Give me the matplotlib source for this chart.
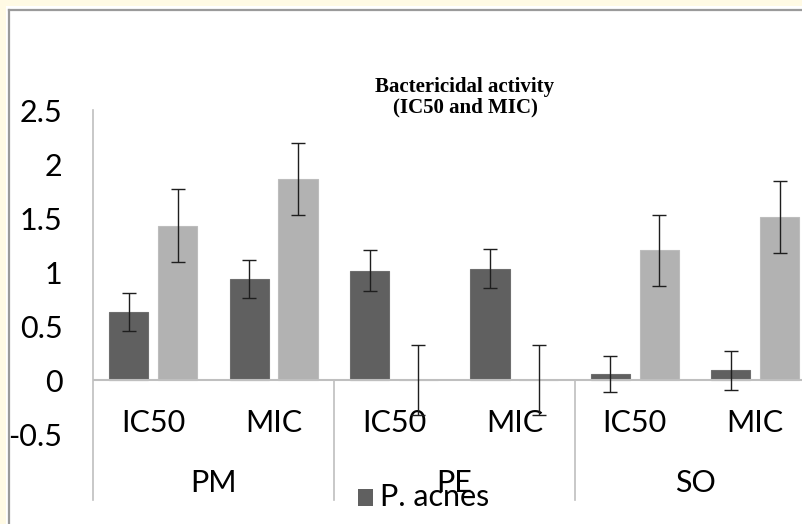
import matplotlib.pyplot as plt
import matplotlib.transforms as mtransforms
from matplotlib.patches import Rectangle
import numpy as np

# values
groups = ["PM", "PE", "SO"]
measures = ["IC50", "MIC"]
acnes = [0.63, 0.935, 1.01, 1.03, 0.055, 0.09]
acnes_err = [0.18, 0.18, 0.19, 0.18, 0.17, 0.18]
second = [1.43, 1.86, 0.0, 0.0, 1.20, 1.51]
second_err = [0.34, 0.33, 0.32, 0.32, 0.33, 0.33]
yticks = [-0.5, 0, 0.5, 1, 1.5, 2, 2.5]

W, H = 803, 524
fig = plt.figure(figsize=(W / 100, H / 100), dpi=100)
fig.patch.set_facecolor("#FFFAE4")

# white chart area with thin grey frame (cropped at right/bottom)
fig.patches.append(Rectangle((6 / W, 0), 1, 1 - 6 / H, transform=fig.transFigure,
                             facecolor="white", edgecolor="none", zorder=-5))
fig.lines.append(plt.Line2D([9.5 / W, 9.5 / W], [0, 1 - 9.5 / H], transform=fig.transFigure,
                            color="#9A9A9A", lw=1.6, zorder=-4))
fig.lines.append(plt.Line2D([9.5 / W, 1], [1 - 9.5 / H, 1 - 9.5 / H], transform=fig.transFigure,
                            color="#9A9A9A", lw=1.6, zorder=-4))

# axes: x 0..6 spans pixel 93..815, y -0.5..2.5 spans pixel 434..110
left, right = 93, 815.4
top, bottom = 110, 434
ax = fig.add_axes([left / W, 1 - bottom / H, (right - left) / W, (bottom - top) / H])
ax.set_facecolor("none")
ax.set_xlim(0, 6)
ax.set_ylim(-0.5, 2.5)

x = np.arange(6) + 0.5
off, bw = 0.203, 0.325
ax.bar(x - off, acnes, width=bw, color="#606060", edgecolor="#6E6E6E", lw=0.8, zorder=2)
ax.bar(x + off, second, width=bw, color="#B2B2B2", edgecolor="#BDBDBD", lw=0.8, zorder=2)
ax.errorbar(x - off, acnes, yerr=acnes_err, fmt="none", ecolor="#1E1E1E", elinewidth=1,
            capsize=5, capthick=1, zorder=4)
ax.errorbar(x + off, second, yerr=second_err, fmt="none", ecolor="#1E1E1E", elinewidth=1,
            capsize=5, capthick=1, zorder=4)

ax.axhline(0, color="#BFBFBF", lw=1.5, zorder=3)
for s in ax.spines.values():
    s.set_visible(False)

font = "Lato"
fs = 22
ax.set_yticks(yticks)
ax.set_yticklabels([f"{v:g}" for v in yticks], fontsize=fs, family=font)
ax.tick_params(axis="y", length=0, pad=22)
ax.set_xticks([])

# y axis line and group separators, drawn below the plot area
blend = mtransforms.blended_transform_factory(ax.transData, ax.transAxes)
ybot = (bottom - 500) / (bottom - top)
yzero = (bottom - 380) / (bottom - top)
ax.plot([0, 0], [ybot, 1], transform=blend, color="#BFBFBF", lw=1.2, clip_on=False)
for xs in [2, 4, 6]:
    ax.plot([xs, xs], [ybot, yzero], transform=blend, color="#BFBFBF", lw=1.2, clip_on=False)

y_meas = (bottom - 423) / (bottom - top)
y_grp = (bottom - 483) / (bottom - top)
for i, xc in enumerate(x):
    ax.text(xc, y_meas, measures[i % 2], transform=blend, ha="center", va="center",
            fontsize=fs, family=font, zorder=1)
for i, g in enumerate(groups):
    ax.text(2 * i + 1, y_grp, g, transform=blend, ha="center", va="center",
            fontsize=fs, family=font)

# title
fig.text(465 / W, 1 - 87 / H, "Bactericidal activity", ha="center", va="center",
         fontsize=15, fontweight="bold", family="Liberation Serif")
fig.text(465 / W, 1 - 107 / H, "(IC50 and MIC)", ha="center", va="center",
         fontsize=15, fontweight="bold", family="Liberation Serif")

# legend (only the first series is visible in the reference)
fig.patches.append(Rectangle((358 / W, 1 - 506 / H), 15 / W, 17 / H, transform=fig.transFigure,
                             facecolor="#606060", edgecolor="none"))
fig.text(380 / W, 1 - 497 / H, "P. acnes", ha="left", va="center", fontsize=fs, family=font)

fig.savefig("out.png", dpi=100, facecolor=fig.get_facecolor())
